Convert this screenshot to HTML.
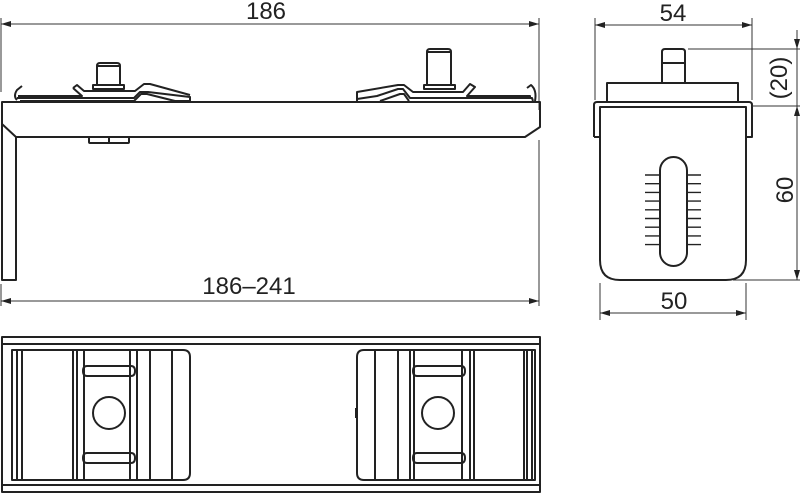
<!DOCTYPE html>
<html><head><style>html,body{margin:0;padding:0;background:#fff}svg{display:block}</style></head>
<body>
<svg width="800" height="494" viewBox="0 0 800 494" xmlns="http://www.w3.org/2000/svg" font-family="'Liberation Sans', sans-serif">
<defs>
<marker id="a" viewBox="0 0 10 6" refX="10" refY="3" markerWidth="10" markerHeight="6" orient="auto-start-reverse" markerUnits="userSpaceOnUse"><path d="M0,0 L10,3 L0,6z" fill="#222"/></marker>
</defs>
<g stroke="#333" fill="none" stroke-width="1">
<line x1="1" y1="18" x2="1" y2="92"/><line x1="539" y1="18" x2="539" y2="110"/>
<line x1="1" y1="24" x2="539" y2="24" marker-start="url(#a)" marker-end="url(#a)"/>
<line x1="1" y1="284" x2="1" y2="306"/><line x1="539" y1="140" x2="539" y2="306"/>
<line x1="1" y1="301" x2="539" y2="301" marker-start="url(#a)" marker-end="url(#a)"/>
</g>
<g stroke="#222" fill="none" stroke-width="2" stroke-linejoin="round">
<path d="M2,102 L540,102 L540,127 L525,137 L16,137 L16,280 L2,280 Z"/>
<path d="M2,124 L16,137"/>
<path d="M89,137 L89,142 Q89,143 90,143 L128,143 Q129,143 129,142 L129,137 M109,137 L109,143"/>
<path d="M97,85 L97,66 Q97,63 100,63 L117,63 Q120,63 120,66 L120,85"/>
<line x1="97" y1="66" x2="120" y2="66"/>
<rect x="93" y="85" width="31" height="4"/>
<path d="M22,86 L17,90 Q13,96 17,100"/>
<path d="M17,98 L134,98 L140,92 L148,92 L190,97 L190,101"/>
<path d="M20,101 L134,101 L141,94 L147,94 L175,101 L190,101"/>
<path d="M73,88 L77,85 L84,91 L135,91 L144,84 L150,84 L190,95"/>
<path d="M73,88 L82,96 L18,96"/>
<path d="M427,85 L427,52 Q427,49 430,49 L448,49 Q451,49 451,52 L451,85"/>
<line x1="427" y1="52" x2="451" y2="52"/>
<rect x="424" y="85" width="31" height="4"/>
<path d="M357,101 L357,92 L398,85 L404,85 L413,92 L463,92 L470,84 L475,87 L467,96 L530,96 L530,99"/>
<path d="M357,99 L377,96 L398,89 L403,89 L410,98 L532,98 L533,101"/>
<path d="M380,101 L400,94 L404,94 L409,101"/>
<path d="M527,88 L531,85 Q537,90 535,101"/>
<rect x="2" y="337" width="538" height="155"/>
<line x1="2" y1="344" x2="540" y2="344"/><line x1="2" y1="485" x2="540" y2="485"/>
<path d="M12,350 L183,350 Q190,350 190,357 L190,473 Q190,480 183,480 L12,480 Z"/>
<path d="M17,350V480M22,350V480M73,350V480M77,350V480M84,350V480M130,350V480M137,350V480M150,350V480M172,350V480"/>
<path d="M87,366 L131,366 Q135,366 135,371 Q135,376 131,376 L87,376 Q83,376 83,371 Q83,366 87,366Z"/>
<path d="M87,453 L131,453 Q135,453 135,458 Q135,463 131,463 L87,463 Q83,463 83,458 Q83,453 87,453Z"/>
<circle cx="109" cy="413" r="16"/>
<path d="M364,350 L535,350 L535,480 L364,480 Q357,480 357,473 L357,357 Q357,350 364,350Z"/>
<path d="M375,350V480M398,350V480M410,350V480M414,350V480M462,350V480M470,350V480M474,350V480M524,350V480M527,350V480M532,350V480"/>
<path d="M417,366 L461,366 Q465,366 465,371 Q465,376 461,376 L417,376 Q413,376 413,371 Q413,366 417,366Z"/>
<path d="M417,453 L461,453 Q465,453 465,458 Q465,463 461,463 L417,463 Q413,463 413,458 Q413,453 417,453Z"/>
<circle cx="438" cy="413" r="16"/>
<path d="M356,408 L356,418"/>
<path d="M662,83 L662,52 Q662,49 665,49 L682,49 Q685,49 685,52 L685,83"/>
<line x1="662" y1="63" x2="685" y2="63"/>
<rect x="607" y="83" width="131" height="19"/>
<path d="M594,137 L594,105 Q594,102 597,102 L749,102 Q752,102 752,105 L752,137 L747,137"/>
<path d="M599,137 L594,137"/>
<path d="M600,137 L600,107 L746,107 L746,137"/>
<path d="M600,107 L600,260 Q600,280 620,280 L726,280 Q746,280 746,260 L746,107"/>
<rect x="660" y="157" width="27" height="109" rx="13.5"/>
<path d="M645,175H660M645,183.7H660M645,192.4H660M645,201.1H660M645,209.8H660M645,218.5H660M645,227.2H660M645,235.9H660M645,244.6H660M687,175H701M687,183.7H701M687,192.4H701M687,201.1H701M687,209.8H701M687,218.5H701M687,227.2H701M687,235.9H701M687,244.6H701" stroke-width="1.4"/>
</g>
<g stroke="#333" fill="none" stroke-width="1">
<line x1="595" y1="18" x2="595" y2="100"/><line x1="752" y1="18" x2="752" y2="100"/>
<line x1="595" y1="25" x2="752" y2="25" marker-start="url(#a)" marker-end="url(#a)"/>
<line x1="688" y1="49" x2="800" y2="49"/><line x1="752" y1="106" x2="800" y2="106"/><line x1="733" y1="280" x2="800" y2="280"/>
<line x1="797" y1="30" x2="797" y2="49" marker-end="url(#a)"/>
<line x1="797" y1="49" x2="797" y2="106"/>
<line x1="797" y1="106" x2="797" y2="280" marker-start="url(#a)" marker-end="url(#a)"/>
<line x1="600" y1="283" x2="600" y2="320"/><line x1="746" y1="283" x2="746" y2="320"/>
<line x1="600" y1="313" x2="746" y2="313" marker-start="url(#a)" marker-end="url(#a)"/>
</g>
<g fill="#222" font-size="24" text-anchor="middle">
<text x="266" y="19">186</text>
<text x="249" y="294">186–241</text>
<text x="673" y="21">54</text>
<text x="674" y="309">50</text>
<text transform="translate(787,78) rotate(-90)">(20)</text>
<text transform="translate(793,190) rotate(-90)">60</text>
</g>
</svg>
</body></html>
